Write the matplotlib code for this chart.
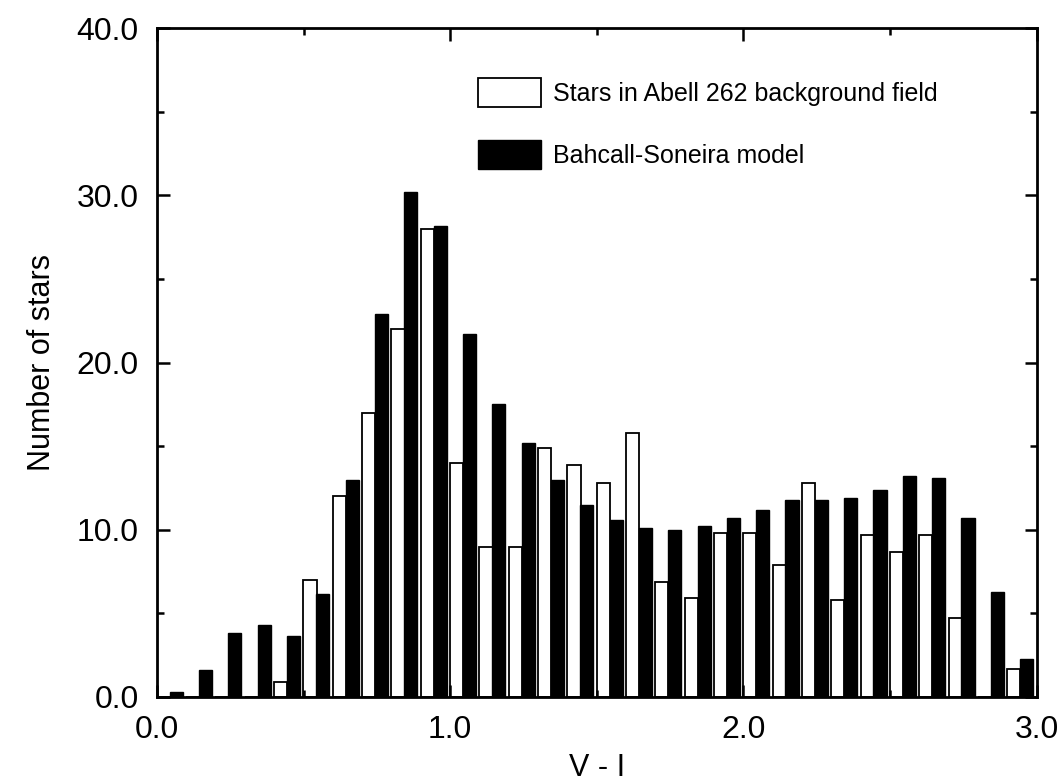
import matplotlib
matplotlib.use("Agg")
import matplotlib.pyplot as plt
import numpy as np
from matplotlib.ticker import MultipleLocator, FormatStrFormatter

plt.rcParams['font.family'] = ['Liberation Sans', 'DejaVu Sans']

# V-I bins, width 0.1, starting at 0.0
bin_start = np.arange(30) * 0.1
observed = [0, 0, 0, 0, 0.9, 7.0, 12.0, 17.0, 22.0, 28.0,
            14.0, 9.0, 9.0, 14.9, 13.9, 12.8, 15.8, 6.9, 5.9, 9.8,
            9.8, 7.9, 12.8, 5.8, 9.7, 8.7, 9.7, 4.7, 0, 1.7]
model = [0.3, 1.6, 3.8, 4.3, 3.65, 6.15, 13.0, 22.9, 30.2, 28.2,
         21.7, 17.5, 15.2, 13.0, 11.5, 10.6, 10.1, 10.0, 10.2, 10.7,
         11.2, 11.8, 11.8, 11.9, 12.4, 13.2, 13.1, 10.7, 6.3, 2.3]

fig = plt.figure(figsize=(10.6, 7.84), dpi=100)
ax = fig.add_axes([0.148, 0.111, 0.830, 0.853])

w = 0.045
ax.bar(bin_start + 0.022, observed, width=w, color='white', edgecolor='black',
       linewidth=1.3, label='Stars in Abell 262 background field')
ax.bar(bin_start + 0.066, model, width=w, color='black', edgecolor='black',
       linewidth=1.0, label='Bahcall-Soneira model')

ax.set_xlim(0, 3.0)
ax.set_ylim(0, 40.0)
ax.xaxis.set_major_locator(MultipleLocator(1.0))
ax.xaxis.set_minor_locator(MultipleLocator(0.5))
ax.yaxis.set_major_locator(MultipleLocator(10.0))
ax.yaxis.set_minor_locator(MultipleLocator(5.0))
ax.xaxis.set_major_formatter(FormatStrFormatter('%.1f'))
ax.yaxis.set_major_formatter(FormatStrFormatter('%.1f'))
ax.tick_params(which='both', direction='in', top=True, right=True, width=1.8)
ax.tick_params(which='major', length=9, labelsize=23, pad=13)
ax.tick_params(which='minor', length=5)
for s in ax.spines.values():
    s.set_linewidth(2.0)

ax.set_xlabel('V - I', fontsize=22, labelpad=6)
ax.set_ylabel('Number of stars', fontsize=22, labelpad=14)

ax.legend(loc='upper left', bbox_to_anchor=(0.365, 0.925), frameon=False,
          fontsize=18, handlelength=2.5, handleheight=1.4, labelspacing=1.3,
          handletextpad=0.5, borderpad=0, borderaxespad=0)

fig.savefig('out.png', dpi=100)
